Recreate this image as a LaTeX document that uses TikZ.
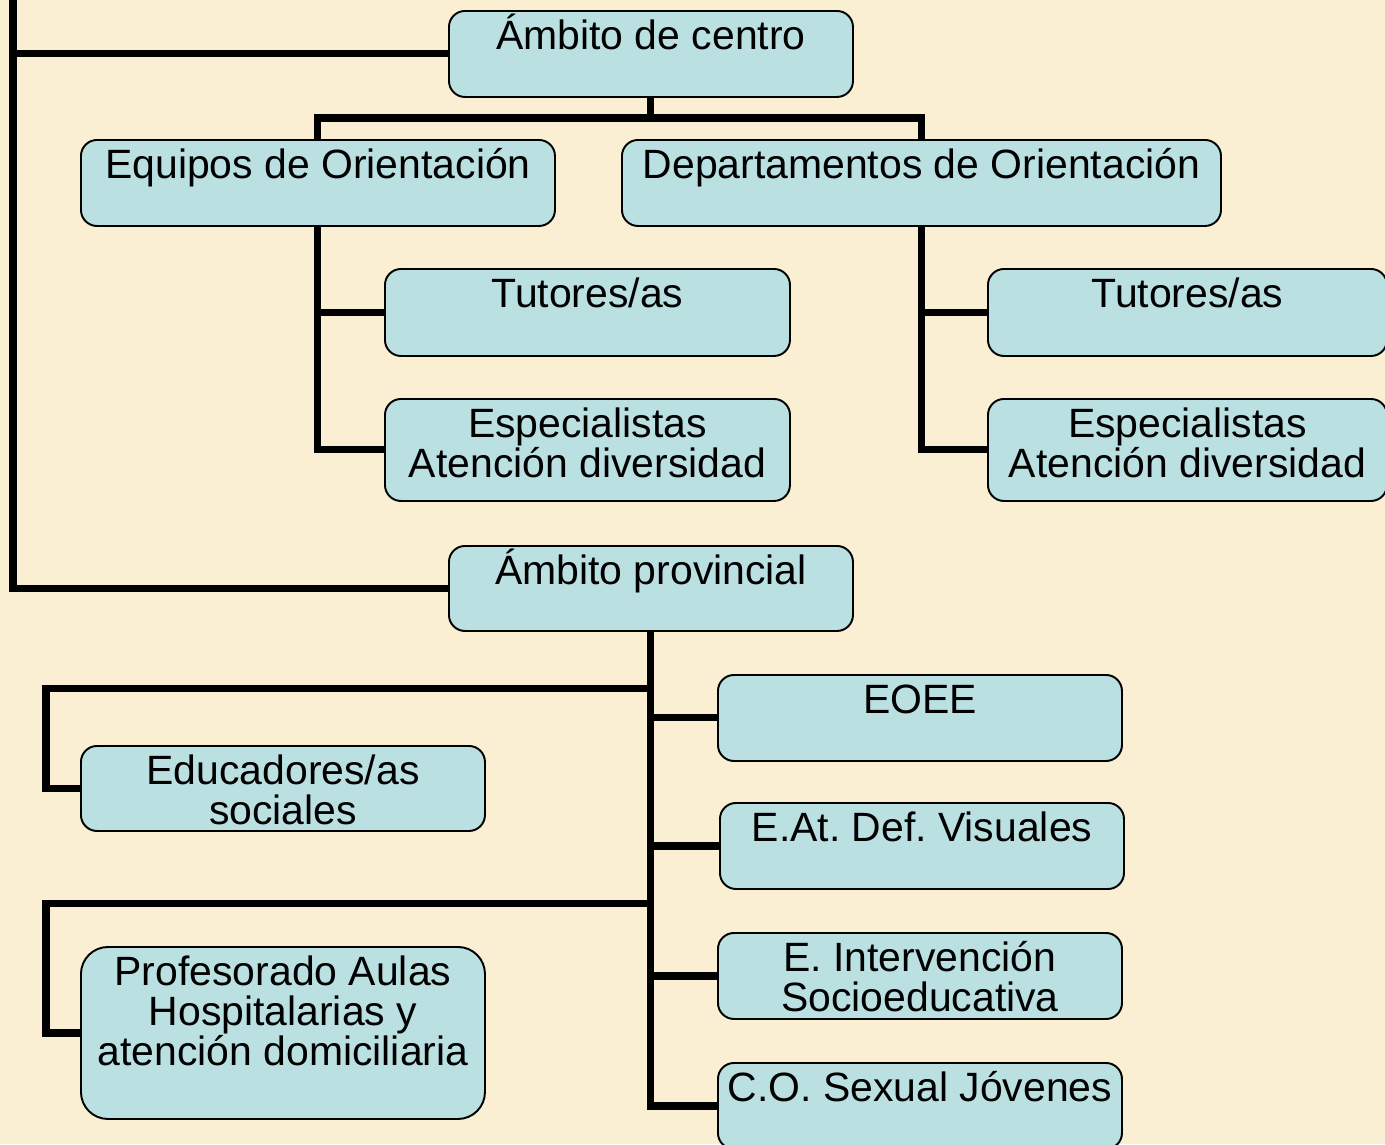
\documentclass[tikz,border=0pt]{standalone}
\usepackage{fontspec}
\setmainfont{Liberation Sans}
\definecolor{paper}{RGB}{250,239,211}
\definecolor{boxblue}{RGB}{186,224,226}
\newlength\pxu
\setlength\pxu{0.02cm}
\newcommand\orgfont{\fontsize{23.3}{22.8}\selectfont\frenchspacing\lineskiplimit=-20pt\relax}
\newcommand\boxtext[3]{\parbox[c][#2\pxu][t]{#1\pxu}{\centering\rule{0pt}{38.5\pxu}#3}}
\tikzset{
  orgbox/.style={draw=black, line width=1.1pt, fill=boxblue, rounded corners=0.32cm,
    inner sep=0pt, anchor=north west, font=\orgfont},
  link/.style={line width=4pt}
}

\begin{document}
\begin{tikzpicture}[x=0.02cm, y=-0.02cm]
\fill[paper] (0,0) rectangle (1385,1144);
\useasboundingbox (0,0) rectangle (1385,1144);

% ambito de centro
\node[orgbox] (ambc) at (448,10) {\boxtext{404}{86}{Ámbito de centro}};
\node[orgbox] (eqo) at (80,139) {\boxtext{474}{86}{Equipos de Orientación}};
\node[orgbox] (dep) at (621,139) {\boxtext{599}{86}{Departamentos de Orientación}};
\node[orgbox] (tut1) at (384,268) {\boxtext{405}{87}{Tutores/as}};
\node[orgbox] (esp1) at (384,398) {\boxtext{405}{102}{Especialistas\\Atención diversidad}};
\node[orgbox] (tut2) at (987,268) {\boxtext{399}{87}{Tutores/as}};
\node[orgbox] (esp2) at (987,398) {\boxtext{399}{102}{Especialistas\\Atención diversidad}};

% ambito provincial
\node[orgbox] (ambp) at (448,545) {\boxtext{404}{85}{Ámbito provincial}};
\node[orgbox] (eoee) at (717,674) {\boxtext{404}{86}{EOEE}};
\node[orgbox] (edu) at (80,745) {\boxtext{404}{85}{Educadores/as\\sociales}};
\node[orgbox] (eat) at (719,802) {\boxtext{404}{86}{E.At. Def. Visuales}};
\node[orgbox] (eint) at (717,932) {\boxtext{404}{86}{E. Intervención\\Socioeducativa}};
\node[orgbox, rounded corners=0.54cm] (prof) at (80,946) {\boxtext{404}{172}{\rule{0pt}{2\pxu}Profesorado Aulas\\Hospitalarias y\\atención domiciliaria}};
\node[orgbox] (cose) at (717,1062) {\boxtext{404}{86}{C.O. Sexual Jóvenes}};

% lines
\coordinate (root) at (13,-10);
\draw[link] (root) |- (ambc.west);
\draw[link] (root) |- (ambp.west);

\draw[link] (ambc.south) -- ++(0,23);
\draw[link] (eqo.north) -- ++(0,-21) -| (dep.north);
\draw[link] (eqo.south) |- (tut1.west);
\draw[link] (eqo.south) |- (esp1.west);
\draw[link] (dep.south) |- (tut2.west);
\draw[link] (dep.south) |- (esp2.west);

\path (ambp.south) ++(0,57) coordinate (pj1);
\path (ambp.south) ++(0,272) coordinate (pj2);
\draw[link] (ambp.south) |- (cose.west);
\draw[link] (eoee.west) -- (eoee.west -| ambp.south);
\draw[link] (eat.west) -- (eat.west -| ambp.south);
\draw[link] (eint.west) -- (eint.west -| ambp.south);
\draw[link] (edu.west) -- ++(-34,0) |- (pj1);
\draw[link] (prof.west) -- ++(-34,0) |- (pj2);
\end{tikzpicture}
\end{document}
